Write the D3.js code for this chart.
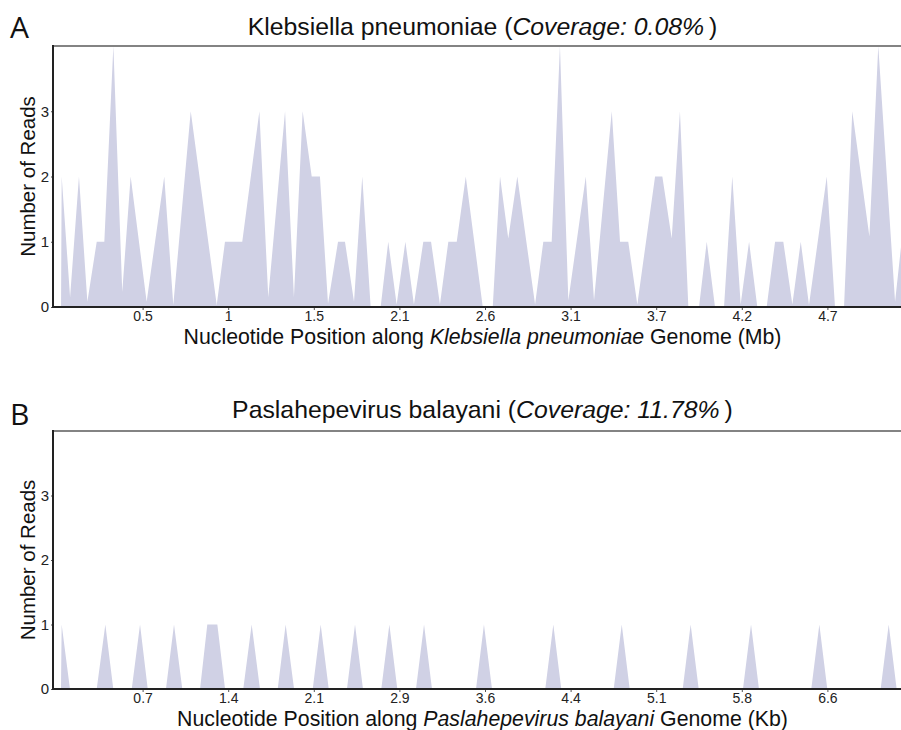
<!DOCTYPE html>
<html>
<head>
<meta charset="utf-8">
<script src="https://cdn.jsdelivr.net/npm/d3@7/dist/d3.min.js"></script>
<style>
  html, body { margin: 0; padding: 0; background: #fff; }
  svg { display: block; }
</style>
</head>
<body>
<svg id="chart" width="901" height="730"></svg>
<script>
// ---------------- DATA ----------------
// Panel A: Klebsiella pneumoniae, position in Mb, number of reads
const klebPos = [0.025, 0.029, 0.081, 0.136, 0.188, 0.246, 0.293, 0.349, 0.404, 0.456,
  0.555, 0.664, 0.720, 0.828, 0.989, 1.040, 1.147, 1.253, 1.308, 1.412,
  1.467, 1.521, 1.577, 1.628, 1.678, 1.740, 1.783, 1.839, 1.890, 1.942,
  2.004, 2.051, 2.103, 2.157, 2.210, 2.268, 2.316, 2.371, 2.423, 2.475,
  2.531, 2.636, 2.698, 2.743, 2.794, 2.850, 2.960, 3.011, 3.063, 3.114,
  3.166, 3.274, 3.325, 3.435, 3.486, 3.537, 3.593, 3.703, 3.748, 3.806,
  3.857, 3.909, 3.975, 4.023, 4.074, 4.130, 4.181, 4.233, 4.285, 4.336,
  4.394, 4.446, 4.497, 4.553, 4.605, 4.656, 4.766, 4.817, 4.873, 4.924,
  5.030, 5.085, 5.189, 5.251];
const klebReads = [0, 2, 0.15, 2, 0.08, 1, 1, 4, 0.23, 2,
  0.08, 2, 0.03, 3, 0.03, 1, 1, 3, 0.15, 3,
  0.15, 3, 2, 2, 0.05, 1, 1, 0.08, 2, 0,
  0, 1, 0.04, 1, 0.04, 1, 1, 0.04, 1, 1,
  2, 0, 0, 2, 1.05, 2, 0.04, 1, 1, 4,
  0.1, 2, 0.1, 3, 1, 1, 0.04, 2, 2, 1.05,
  3, 0, 0, 1, 0, 0, 2, 0.04, 1, 0,
  0, 1, 1, 0.04, 1, 0.03, 2, 0, 0, 3,
  1.08, 4, 0.08, 1.5];
const klebTickLabels = ["0.5", "1", "1.5", "2.1", "2.6", "3.1", "3.7", "4.2", "4.7"];

// Panel B: Paslahepevirus balayani, position in Kb, number of reads
const paslPos = [0.034, 0.040, 0.111,
  0.340, 0.414, 0.482,
  0.640, 0.711, 0.777,
  0.933, 1.002, 1.073,
  1.225, 1.287, 1.373, 1.439,
  1.595, 1.667, 1.738,
  1.890, 1.958, 2.030,
  2.190, 2.258, 2.327,
  2.483, 2.552, 2.620,
  2.777, 2.846, 2.914,
  3.074, 3.143, 3.211,
  3.588, 3.656, 3.725,
  4.181, 4.250, 4.318,
  4.767, 4.836, 4.904,
  5.358, 5.426, 5.495,
  5.874, 5.943, 6.011,
  6.459, 6.528, 6.596,
  7.053, 7.122, 7.190];
const paslReads = [0, 1, 0,
  0, 1, 0,
  0, 1, 0,
  0, 1, 0,
  0, 1, 1, 0,
  0, 1, 0,
  0, 1, 0,
  0, 1, 0,
  0, 1, 0,
  0, 1, 0,
  0, 1, 0,
  0, 1, 0,
  0, 1, 0,
  0, 1, 0,
  0, 1, 0,
  0, 1, 0,
  0, 1, 0,
  0, 1, 0];
const paslTickLabels = ["0.7", "1.4", "2.1", "2.9", "3.6", "4.4", "5.1", "5.8", "6.6"];

const yTicks = [0, 1, 2, 3];

// ---------------- DRAW ----------------
const svg = d3.select("#chart");
svg.append("rect").attr("width", 901).attr("height", 730).attr("fill", "#fff");

const FONT = "'Liberation Sans', Arial, sans-serif";
const FILL = "#d0d1e5";

function panel(opts) {
  const g = svg.append("g");
  const left = 53, right = 912;
  const x = d3.scaleLinear().domain([0, opts.genomeLen]).range([57, 913]);
  const y = d3.scaleLinear().domain([0, 4]).range([opts.bottom, opts.top]);

  const pts = opts.pos.map((p, i) => [p, opts.reads[i]]);
  const area = d3.area()
    .x(d => x(d[0]))
    .y0(y(0))
    .y1(d => y(d[1]));
  g.append("path").datum(pts).attr("d", area).attr("fill", FILL).attr("stroke", "none");

  // top border
  g.append("line").attr("x1", left).attr("x2", right + 10)
    .attr("y1", opts.top).attr("y2", opts.top)
    .attr("stroke", "#5a5a5a").attr("stroke-width", 1.6);

  // x axis
  const step = opts.genomeLen / 10;
  const tickVals = opts.tickLabels.map((_, i) => step * (i + 1));
  const xAxis = d3.axisBottom(x).tickValues(tickVals)
    .tickFormat((d, i) => opts.tickLabels[i]).tickSizeOuter(0).tickSize(3).tickPadding(1.5);
  const gx = g.append("g").attr("transform", `translate(0,${opts.bottom})`).call(xAxis);
  gx.attr("font-size", 14).attr("font-family", FONT);
  gx.select(".domain").remove();
  gx.selectAll(".tick line").attr("stroke", "#555").attr("stroke-width", 1);
  gx.selectAll(".tick text").attr("fill", "#222");
  g.append("line").attr("x1", left - 1).attr("x2", right + 10)
    .attr("y1", opts.bottom).attr("y2", opts.bottom)
    .attr("stroke", "#222").attr("stroke-width", 2);

  // y axis
  const yAxis = d3.axisLeft(y).tickValues(yTicks).tickFormat(d3.format("d"))
    .tickSize(2).tickPadding(2).tickSizeOuter(0);
  const gy = g.append("g").attr("transform", `translate(${left},0)`).call(yAxis);
  gy.attr("font-size", 15).attr("font-family", FONT);
  gy.select(".domain").remove();
  gy.selectAll(".tick line").attr("stroke", "#555");
  gy.selectAll(".tick text").attr("fill", "#222");
  g.append("line").attr("x1", left).attr("x2", left)
    .attr("y1", opts.top - 1).attr("y2", opts.bottom + 1)
    .attr("stroke", "#222").attr("stroke-width", 2);

  const cx = (left + right) / 2;
  // title
  const t = g.append("text").attr("x", cx).attr("y", opts.titleY)
    .attr("text-anchor", "middle").attr("font-family", FONT).attr("font-size", 24.8).attr("fill", "#111");
  t.append("tspan").text(opts.name + " (");
  t.append("tspan").attr("font-style", "italic").text("Coverage: " + opts.coverage);
  t.append("tspan").text("\u2009)");

  // x label
  const xl = g.append("text").attr("x", cx).attr("y", opts.bottom + 36.5)
    .attr("text-anchor", "middle").attr("font-family", FONT).attr("font-size", 21.3).attr("fill", "#111");
  xl.append("tspan").text("Nucleotide Position along ");
  xl.append("tspan").attr("font-style", "italic").text(opts.name);
  xl.append("tspan").text(" Genome (" + opts.unit + ")");

  // y label
  g.append("text")
    .attr("transform", `translate(35,${(opts.top + opts.bottom) / 2}) rotate(-90)`)
    .attr("text-anchor", "middle").attr("font-family", FONT).attr("font-size", 20.5).attr("fill", "#111")
    .text("Number of Reads");

  // panel letter
  g.append("text").attr("x", 10).attr("y", opts.letterY)
    .attr("font-family", "'Open Sans', 'DejaVu Sans', sans-serif").attr("font-size", 30).attr("fill", "#111")
    .text(opts.letter);
}

panel({
  letter: "A", letterY: 38, titleY: 35,
  name: "Klebsiella pneumoniae", coverage: "0.08%", unit: "Mb",
  genomeLen: 5.3, top: 46, bottom: 307,
  pos: klebPos, reads: klebReads, tickLabels: klebTickLabels
});
panel({
  letter: "B", letterY: 425, titleY: 418,
  name: "Paslahepevirus balayani", coverage: "11.78%", unit: "Kb",
  genomeLen: 7.33, top: 431, bottom: 689,
  pos: paslPos, reads: paslReads, tickLabels: paslTickLabels
});
</script>
</body>
</html>
